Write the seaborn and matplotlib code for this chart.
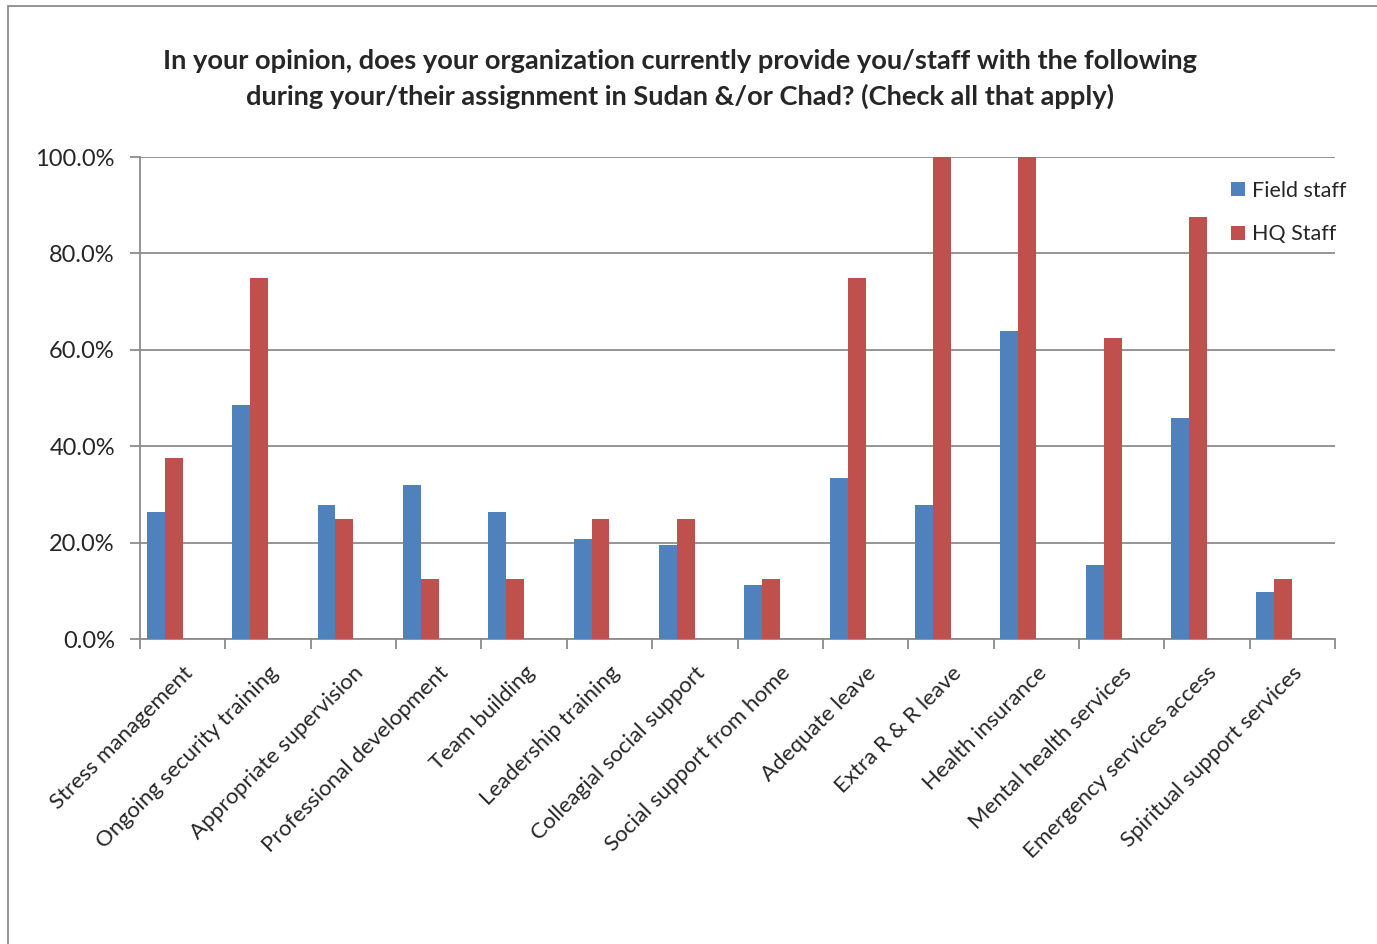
import matplotlib
matplotlib.use("Agg")
import matplotlib.pyplot as plt
from matplotlib.patches import Rectangle
from matplotlib.ticker import FuncFormatter, FixedLocator
import seaborn as sns
import pandas as pd

categories = [
    "Stress management", "Ongoing security training", "Appropriate supervision",
    "Professional development", "Team building", "Leadership training",
    "Colleagial social support", "Social support from home", "Adequate leave",
    "Extra R & R leave", "Health insurance", "Mental health services",
    "Emergency services access", "Spiritual support services",
]
field_staff = [26.4, 48.6, 27.8, 31.9, 26.4, 20.8, 19.4, 11.1, 33.3, 27.8, 63.9, 15.3, 45.8, 9.7]
hq_staff = [37.5, 75.0, 25.0, 12.5, 12.5, 25.0, 25.0, 12.5, 75.0, 100.0, 100.0, 62.5, 87.5, 12.5]
series_names = ["Field staff", "HQ Staff"]
title = ("In your opinion, does your organization currently provide you/staff with the following\n"
         "during your/their assignment in Sudan &/or Chad? (Check all that apply)")

df = pd.DataFrame({
    "item": categories * 2,
    "pct": field_staff + hq_staff,
    "group": [series_names[0]] * len(categories) + [series_names[1]] * len(categories),
})

sns.set_style("white")
plt.rcParams["font.family"] = ["Lato", "DejaVu Sans"]

grid_c = "#8c8c8c"
fig = plt.figure(figsize=(13.77, 9.44), dpi=100)
ax = fig.add_axes([140 / 1377, 1 - 639 / 944, (1335 - 140) / 1377, (639 - 157) / 944])

# two empty slots in the cluster keep the bars on the left half of each category
sns.barplot(data=df, x="item", y="pct", hue="group",
            hue_order=series_names + ["_s3", "_s4"], order=categories,
            palette={"Field staff": "#4F81BD", "HQ Staff": "#C0504D",
                     "_s3": "#9BBB59", "_s4": "#8064A2"},
            width=0.84, dodge=True, saturation=1, legend=False, ax=ax,
            linewidth=0, zorder=3)

ax.set_ylim(0, 100)
ax.set_xlim(-0.5, len(categories) - 0.5)
ax.yaxis.set_major_locator(FixedLocator([0, 20, 40, 60, 80, 100]))
ax.yaxis.set_major_formatter(FuncFormatter(lambda v, p: f"{v:.1f}%"))
ax.yaxis.grid(True, color=grid_c, linewidth=1.3, zorder=0)
ax.set_axisbelow(True)
ax.set_xlabel("")
ax.set_ylabel("")

for s in ["top", "right"]:
    ax.spines[s].set_visible(False)
for s in ["left", "bottom"]:
    ax.spines[s].set_color(grid_c)
    ax.spines[s].set_linewidth(1.3)

ax.tick_params(axis="y", which="major", length=7, width=1.3, color=grid_c,
               labelsize=17, pad=11, left=True)
ax.set_xticks(range(len(categories)))
ax.set_xticklabels(categories, rotation=45, ha="right", rotation_mode="anchor",
                   fontsize=16)
ax.tick_params(axis="x", which="major", length=0, pad=17)
ax.set_xticks([i - 0.5 for i in range(len(categories) + 1)], minor=True)
ax.tick_params(axis="x", which="minor", length=7, width=1.3, color=grid_c, bottom=True)

handles = ax.containers[:2]
ax.legend(handles, series_names, loc="upper left",
          bbox_to_anchor=(1222 / 1377, 1 - 172 / 944), bbox_transform=fig.transFigure,
          frameon=False, fontsize=15.5, handlelength=0.65, handleheight=0.65,
          handletextpad=0.35, labelspacing=1.1, borderaxespad=0)

fig.text(680 / 1377, 1 - 79 / 944, title, ha="center", va="center",
         fontsize=19.6, fontweight="bold", linespacing=1.5)

fig.patches.append(Rectangle((8 / 1377, -0.05), 1.2, 1 - 6 / 944 + 0.05,
                             transform=fig.transFigure, fill=False,
                             edgecolor="#8c8c8c", linewidth=1.3))

fig.savefig("out.png", dpi=100, facecolor="white")
